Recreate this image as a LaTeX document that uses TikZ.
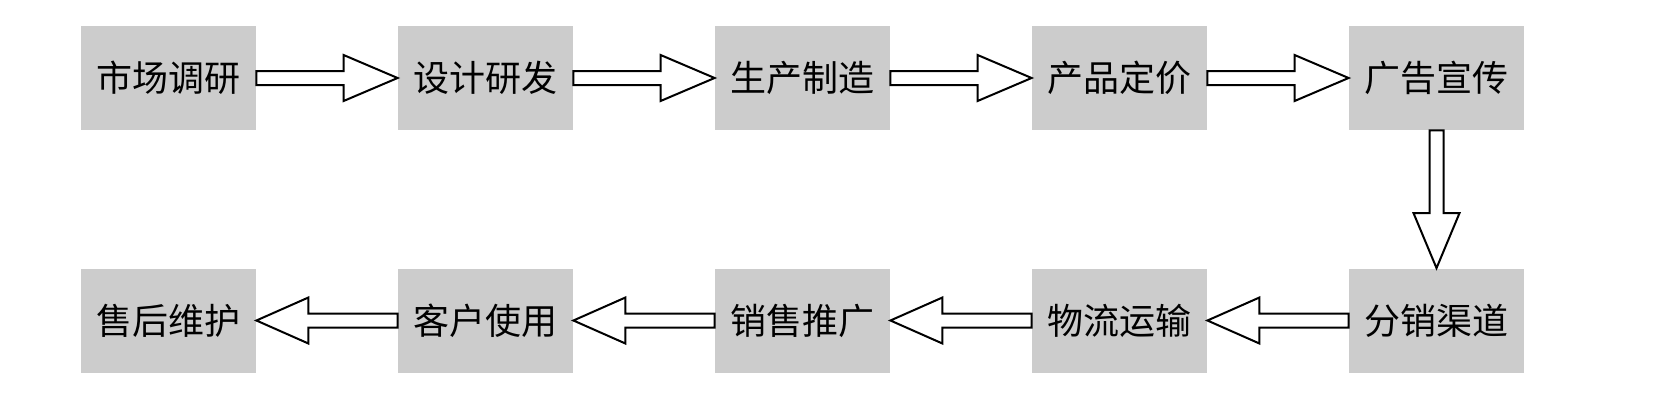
\documentclass[tikz,border=0pt]{standalone}
\usepackage{fontspec}
\newfontfamily\cjk{Noto Sans CJK SC}
\usetikzlibrary{calc}
\tikzset{
  box/.style={fill=boxgray, draw=none, minimum width=87.5pt, minimum height=52pt, inner sep=0pt, font=\cjk\fontsize{18pt}{20pt}\selectfont},
  fat/.style={draw=black, fill=white, line width=1pt, line join=miter}
}
\definecolor{boxgray}{HTML}{CCCCCC}
% horizontal fat arrow from east of #1 to west of #2 (rightward)
\newcommand{\fatright}[2]{%
  \draw[fat] ($(#1.east)+(0,-7)$) -- ($(#2.west)+(-54,-7)$) -- ($(#2.west)+(-54,-23)$) -- (#2.west)
    -- ($(#2.west)+(-54,23)$) -- ($(#2.west)+(-54,7)$) -- ($(#1.east)+(0,7)$) -- cycle;}
\newcommand{\fatleft}[2]{%
  \draw[fat] ($(#1.west)+(0,-7)$) -- ($(#2.east)+(52,-7)$) -- ($(#2.east)+(52,-23)$) -- (#2.east)
    -- ($(#2.east)+(52,23)$) -- ($(#2.east)+(52,7)$) -- ($(#1.west)+(0,7)$) -- cycle;}
\newcommand{\fatdown}[2]{%
  \draw[fat] ($(#1.south)+(-7,0)$) -- ($(#2.north)+(-7,-55)$) -- ($(#2.north)+(-23,-55)$) -- (#2.north)
    -- ($(#2.north)+(23,-55)$) -- ($(#2.north)+(7,-55)$) -- ($(#1.south)+(7,0)$) -- cycle;}
\begin{document}
\begin{tikzpicture}[x=0.5pt,y=-0.5pt]
\useasboundingbox (0,0) rectangle (1654,418);
\node[box] (a1) at (168.5,78) {市场调研};
\node[box] (a2) at (485.5,78) {设计研发};
\node[box] (a3) at (802.5,78) {生产制造};
\node[box] (a4) at (1119.5,78) {产品定价};
\node[box] (a5) at (1436.5,78) {广告宣传};
\node[box] (b5) at (1436.5,320.5) {分销渠道};
\node[box] (b4) at (1119.5,320.5) {物流运输};
\node[box] (b3) at (802.5,320.5) {销售推广};
\node[box] (b2) at (485.5,320.5) {客户使用};
\node[box] (b1) at (168.5,320.5) {售后维护};
\fatright{a1}{a2}
\fatright{a2}{a3}
\fatright{a3}{a4}
\fatright{a4}{a5}
\fatdown{a5}{b5}
\fatleft{b5}{b4}
\fatleft{b4}{b3}
\fatleft{b3}{b2}
\fatleft{b2}{b1}
\end{tikzpicture}
\end{document}
